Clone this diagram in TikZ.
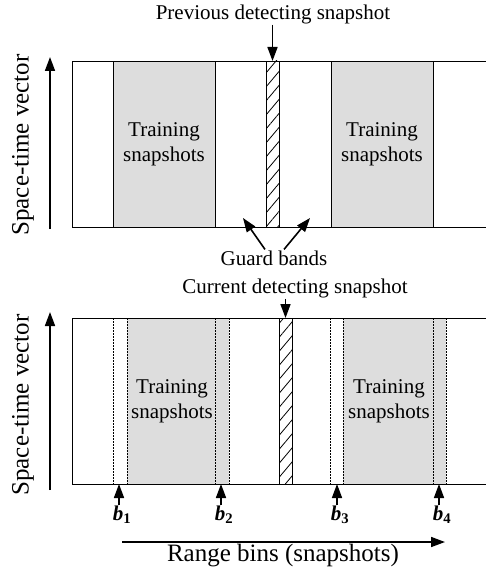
\documentclass[tikz,border=0pt]{standalone}
\usepackage{fontspec}
\setmainfont{Liberation Serif}
\usetikzlibrary{positioning, arrows.meta, patterns.meta}
\newcommand{\bbin}[1]{{\bfseries\itshape b}\textsubscript{\bfseries #1}}

\begin{document}
\begin{tikzpicture}[x=1pt, y=-1pt,
		box/.style={draw, line width=0.9pt, inner sep=0pt, outer sep=0pt, anchor=north west, minimum height=166pt},
		train/.style={box, fill=gray!27},
		hatch/.style={box, pattern={Lines[angle=50, distance=9pt, line width=0.8pt]}},
		ghost/.style={line width=0.6pt, dash pattern=on 1.6pt off 1.4pt},
		lbl/.style={font=\fontsize{21}{25}\selectfont, inner sep=1pt},
		axlbl/.style={font=\fontsize{25}{28}\selectfont, inner sep=0pt},
		arr/.style={-{Triangle[length=14pt, width=10pt]}, line width=1.6pt}]
	\useasboundingbox (0,0) rectangle (486,572);

	% previous snapshot
	\node[box, minimum width=418pt]  (topframe)  at (72,61) {};
	\node[train, minimum width=102pt]  (tr1)  at (113,61) {};
	\node[train, minimum width=102pt]  (tr2)  at (331,61) {};
	\node[hatch, minimum width=13pt]  (prevdet)  at (266,61) {};
	\node[lbl, align=center]  at (tr1.center) {Training\\snapshots};
	\node[lbl, align=center]  at (tr2.center) {Training\\snapshots};
	\node[lbl]  (prevlbl)  at (273,14) {Previous detecting snapshot};
	\node[lbl]  (guard)  at (274,258) {Guard bands};
	\coordinate (gl) at (243,218);
	\coordinate (gr) at (310,218);
	\node[axlbl, rotate=90]  (stv1)  at (23,145) {Space-time vector};
	\coordinate (ax1s) at (50,229);
	\coordinate (ax1e) at (50,57);

	\draw[arr] (prevlbl.south -| prevdet.north) -- (prevdet.north) ;
	\draw[arr] ([xshift=-9pt]guard.north) -- (gl) ;
	\draw[arr] ([xshift=10pt]guard.north) -- (gr) ;
	\draw[arr] (ax1s) -- (ax1e) ;

	% current snapshot
	\node[box, minimum width=418pt]  (botframe)  at (72,318) {};
	\node[train, draw=none, minimum width=102pt]  (tr3)  at (127,318) {};
	\node[train, draw=none, minimum width=103pt]  (tr4)  at (343,318) {};
	\draw[line width=0.9pt] (botframe.north west) -- (botframe.north east) (botframe.south west) -- (botframe.south east) ;
	\foreach \x in {113,127,215,229,330,343,433,446}
		\draw[ghost] (\x,318) -- (\x,484) ;
	\node[hatch, minimum width=13pt]  (curdet)  at (279,318) {};
	\node[lbl, align=center]  at (172,401) {Training\\snapshots};
	\node[lbl, align=center]  at (389,401) {Training\\snapshots};
	\node[lbl]  (curlbl)  at (295,288) {Current detecting snapshot};
	\node[axlbl, rotate=90]  (stv2)  at (23,405) {Space-time vector};
	\coordinate (ax2s) at (50,490);
	\coordinate (ax2e) at (50,312);

	\draw[arr] (curlbl.south -| curdet.north) -- (curdet.north) ;
	\draw[arr] (ax2s) -- (ax2e) ;

	% bin markers
	\foreach \x/\n in {119/1,221/2,337/3,439/4} {
		\coordinate (t\n) at (\x,484);
		\node[lbl, anchor=north]  (b\n)  at (\x+3,505) {\bbin{\n}};
		\draw[arr] (b\n.north -| t\n) -- (t\n) ;
	}

	\node[axlbl]  (range)  at (283,556) {Range bins (snapshots)};
	\coordinate (rgs) at (122,542);
	\coordinate (rge) at (445,542);
	\draw[arr] (rgs) -- (rge) ;
\end{tikzpicture}
\end{document}
